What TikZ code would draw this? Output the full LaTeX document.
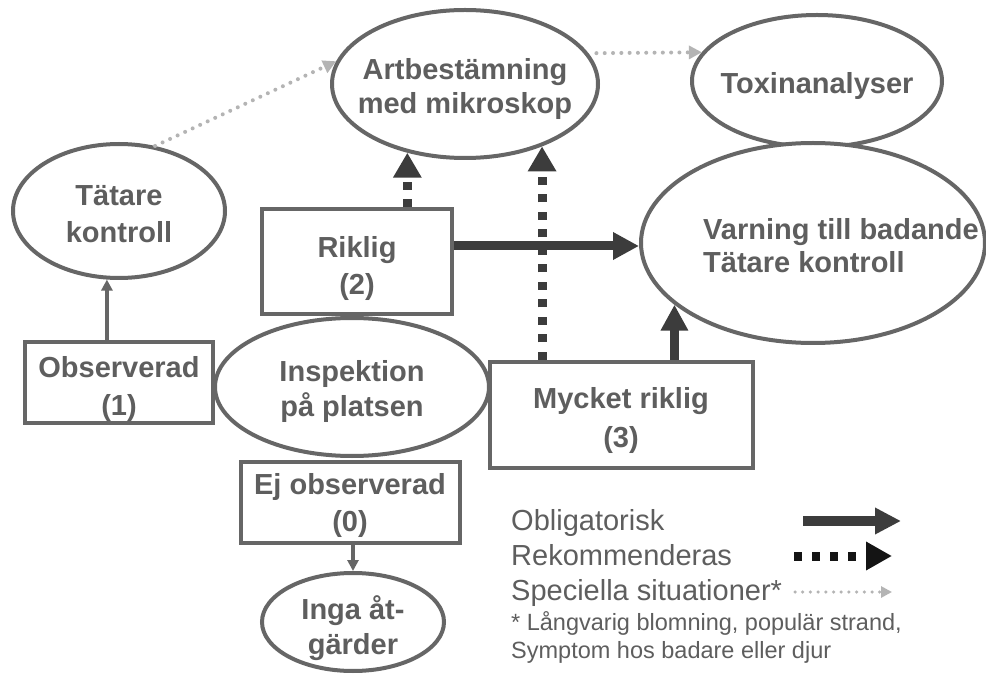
\documentclass[tikz,border=0pt]{standalone}
\usepackage{fontspec}
\setmainfont{Liberation Sans}
\usetikzlibrary{shapes.geometric,arrows.meta}
\definecolor{edge}{HTML}{666666}
\definecolor{ink}{HTML}{5E5E5E}
\definecolor{dark}{HTML}{3C3C3C}
\definecolor{light}{HTML}{B4B4B4}
\definecolor{blk}{HTML}{141414}
\begin{document}
\begin{tikzpicture}[x=1pt,y=-1pt,
  txt/.style={font=\fontsize{29}{36}\selectfont\bfseries, text=ink, align=center, inner sep=0pt, yshift=-5pt},
  ell/.style={draw=edge, line width=4pt, ellipse, inner sep=0pt, fill=white},
  box/.style={draw=edge, line width=4pt, rectangle, inner sep=0pt, fill=white},
  oblig/.style={draw=dark, line width=9pt, -{Triangle[length=26pt,width=26pt]}},
  rec/.style={draw=dark, line width=9pt, dash pattern=on 8pt off 9.5pt, -{Triangle[length=25pt,width=27pt]}},
  thin/.style={draw=edge, line width=3.5pt, -{Triangle[length=11pt,width=11pt]}},
  spec/.style={draw=light, line width=4pt, line cap=round, dash pattern=on 0pt off 8.3pt, -{Triangle[length=13pt,width=13pt]}},
  leg/.style={font=\fontsize{29}{35}\selectfont, text=ink, inner sep=0pt},
  note/.style={font=\fontsize{23.5}{28}\selectfont, text=ink, inner sep=0pt}]
\useasboundingbox[fill=white] (0,0) rectangle (986,676);

% ellipses
\node[ell, minimum width=266pt, minimum height=148pt,
  label={[txt, font=\fontsize{29}{34}\selectfont\bfseries]center:Artbestämning\\med mikroskop}] (art) at (465,84) {};
\node[ell, minimum width=250pt, minimum height=132pt,
  label={[txt]center:Toxinanalyser}] (tox) at (817,81) {};
\node[ell, minimum width=344pt, minimum height=200pt] (varn) at (813,243) {};
\node[txt, font=\fontsize{29}{33}\selectfont\bfseries, align=left, anchor=west, yshift=5pt] (varntxt) at (703,246) {Varning till badande\\Tätare kontroll};
\node[ell, minimum width=212pt, minimum height=134pt,
  label={[txt, font=\fontsize{29}{37}\selectfont\bfseries, yshift=2pt]center:Tätare\\kontroll}] (tat) at (119,211) {};
\node[ell, minimum width=274pt, minimum height=138pt,
  label={[txt, font=\fontsize{29}{35}\selectfont\bfseries]center:Inspektion\\på platsen}] (insp) at (352,387) {};
\node[ell, minimum width=182pt, minimum height=98pt,
  label={[txt, font=\fontsize{29}{35}\selectfont\bfseries, yshift=-1pt]center:Inga åt-\\gärder}] (inga) at (353,622) {};

% boxes
\node[box, minimum width=190pt, minimum height=105pt,
  label={[txt, font=\fontsize{29}{37}\selectfont\bfseries, yshift=-2pt]center:Riklig\\(2)}] (rik) at (357,262) {};
\node[box, minimum width=188pt, minimum height=81pt,
  label={[txt, font=\fontsize{29}{38}\selectfont\bfseries, yshift=-1pt]center:Observerad\\(1)}] (obs) at (119,383) {};
\node[box, minimum width=219pt, minimum height=81pt,
  label={[txt, font=\fontsize{29}{37}\selectfont\bfseries, yshift=1pt]center:Ej observerad\\(0)}] (ej) at (350,502) {};
\node[box, minimum width=263pt, minimum height=106pt,
  label={[txt, font=\fontsize{29}{39}\selectfont\bfseries, yshift=-1pt]center:Mycket riklig\\(3)}] (myc) at (621,415) {};

% connectors
\draw[thin] (obs.north -| tat.260) -- (tat.260);
\draw[thin] (ej.south -| inga.north) -- (inga.north);
\draw[spec] (tat.61) -- (art.170);
\draw[spec, shorten <=8pt] (art.14) -- (tox.166);
\draw[rec] (rik.north -| art.230.2) -- (art.230.2);
\draw[rec] (myc.north -| art.321.4) -- (art.321.4);
\draw[oblig] ([yshift=-3pt]rik.east |- varn.west) -- ([yshift=-3pt]varn.west);
\draw[oblig] (myc.north -| varn.204.2) -- (varn.204.2);

% legend
\node[leg, anchor=base west] (lob) at (511,530) {Obligatorisk};
\node[leg, anchor=base west] (lre) at (511,565) {Rekommenderas};
\node[leg, anchor=base west] (lsp) at (511,600) {Speciella situationer*};
\node[note, anchor=base west] (ln1) at (511,630) {* Långvarig blomning, populär strand,};
\node[note, anchor=base west] (ln2) at (511,658) {Symptom hos badare eller djur};
\coordinate (a1s) at (803,521); \coordinate (a1e) at (901,521);
\coordinate (a2s) at (794,556); \coordinate (a2e) at (892,556);
\coordinate (a3s) at (795,592); \coordinate (a3e) at (892,592);
\draw[oblig, line width=10pt, -{Triangle[length=26pt,width=25pt]}] (a1s) -- (a1e);
\draw[rec, draw=blk, dash pattern=on 8pt off 10pt, -{Triangle[length=26pt,width=27pt]}] (a2s) -- (a2e);
\draw[spec, line width=3.5pt, dash pattern=on 0pt off 7.7pt, -{Triangle[length=11pt,width=11pt]}] (a3s) -- (a3e);
\end{tikzpicture}
\end{document}
